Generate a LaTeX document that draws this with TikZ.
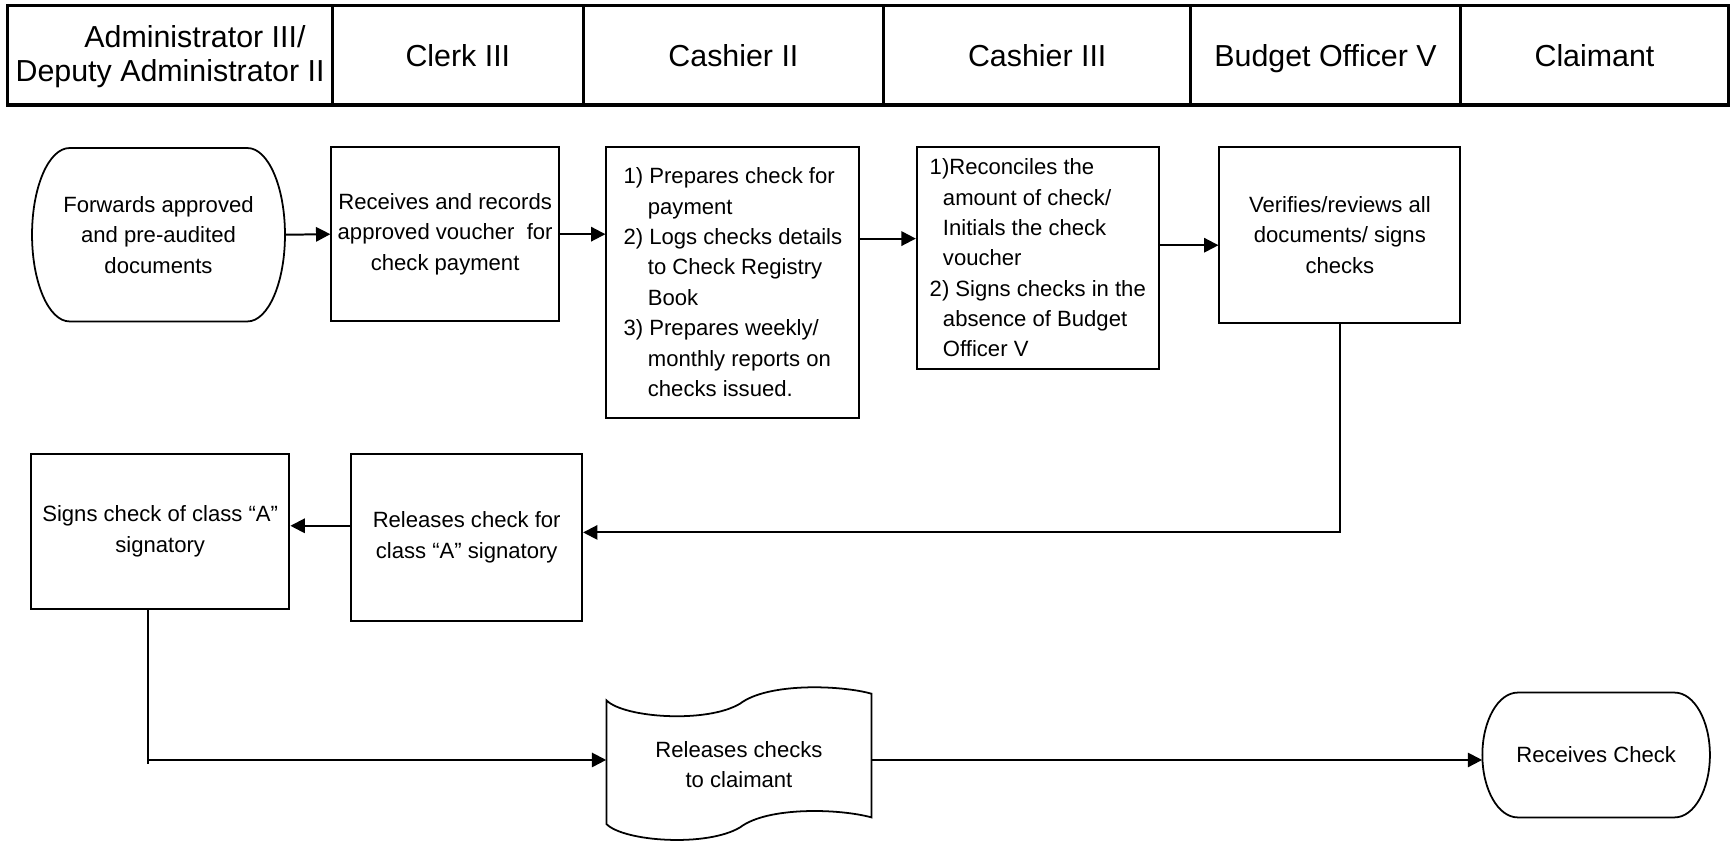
\documentclass[tikz,border=0pt]{standalone}
\usepackage{fontspec}
\setmainfont{Liberation Sans}
\usetikzlibrary{arrows.meta,calc}
\begin{document}
\begin{tikzpicture}[x=1pt,y=-1pt,
  txt/.style={inner sep=0pt, font=\fontsize{20}{27.5}\selectfont, align=center},
  box/.style={txt, draw, line width=1.8pt},
  hdr/.style={inner sep=0pt, font=\fontsize{27.5}{31}\selectfont, align=center},
  hdrone/.style={hdr, anchor=base},
  arr/.style={line width=1.8pt, -{Triangle[length=13pt,width=13pt]}},
  conn/.style={line width=1.8pt},
  outline/.style={line width=1.6pt},
  hline/.style={line width=3pt},
]
\useasboundingbox (0,0) rectangle (1568,761);

% header row
\draw[hline] (7,5) rectangle (1565,95);
\foreach \x in {301,528,800,1078,1322} \draw[hline] (\x,5) -- (\x,95);
\node[hdr] (h1) at (154,51) {\hspace*{45pt}Administrator III/\\Deputy Administrator II};
\node[hdrone] (h2) at (414.5,60) {Clerk III};
\node[hdrone] (h3) at (664,60) {Cashier II};
\node[hdrone] (h4) at (939,60) {Cashier III};
\node[hdrone] (h5) at (1200,60) {Budget Officer V};
\node[hdrone] (h6) at (1443.5,60) {Claimant};

% start terminal
\node[txt, minimum width=229pt, minimum height=158pt] (A) at (143.5,212.5)
  {Forwards approved\\and pre-audited\\documents};
\draw[outline] (224,134) .. controls (242.8,134) and (258,169.1) .. (258,212.5)
  .. controls (258,255.9) and (242.8,291) .. (224,291) -- (63,291)
  .. controls (44.2,291) and (29,255.9) .. (29,212.5)
  .. controls (29,169.1) and (44.2,134) .. (63,134) -- cycle;

\node[box, minimum width=206pt, minimum height=158pt] (B) at (403,212)
  {Receives and records\\approved voucher\ \ for\\check payment};

\node[box, minimum width=229pt, minimum height=245pt, align=left] (C) at (663.5,255.5)
  {1) Prepares check for\\\hspace*{22pt}payment\\2) Logs checks details\\\hspace*{22pt}to Check Registry\\\hspace*{22pt}Book\\3) Prepares weekly/\\\hspace*{22pt}monthly reports on\\\hspace*{22pt}checks issued.};

\node[box, minimum width=219pt, minimum height=201pt, align=left] (D) at (939.5,233.5)
  {1)Reconciles the\\\hspace*{12pt}amount of check/\\\hspace*{12pt}Initials the check\\\hspace*{12pt}voucher\\2) Signs checks in the\\\hspace*{12pt}absence of Budget\\\hspace*{12pt}Officer V};

\node[box, minimum width=218pt, minimum height=159pt] (E) at (1213,212.5)
  {Verifies/reviews all\\documents/ signs\\checks};

\node[box, minimum width=234pt, minimum height=140pt] (F) at (145,481)
  {Signs check of class “A”\\signatory};

\node[box, minimum width=209pt, minimum height=151pt] (G) at (422.5,486.5)
  {Releases check for\\class “A” signatory};

% punched-tape shape
\node[txt, minimum width=240pt, minimum height=130pt] (H) at (669,692)
  {Releases checks\\to claimant};
\draw[outline] (549,634) .. controls (565,650) and (640,655) .. (670,637)
  .. controls (695,618) and (760,620) .. (789,628) -- (789,740)
  .. controls (760,732) and (695,730) .. (670,749)
  .. controls (640,767) and (565,762) .. (549,746) -- cycle;

% end terminal
\node[txt, minimum width=206pt, minimum height=113pt] (I) at (1445,683.5) {Receives Check};
\draw[outline] (1516,627) .. controls (1533.7,627) and (1548,652.3) .. (1548,683.5)
  .. controls (1548,714.7) and (1533.7,740) .. (1516,740) -- (1374,740)
  .. controls (1356.3,740) and (1342,714.7) .. (1342,683.5)
  .. controls (1342,652.3) and (1356.3,627) .. (1374,627) -- cycle;

% connectors
\draw[arr] (A.east) -- (B.west);
\draw[arr] (B.east) -- (B.east -| C.west);
\coordinate (cd) at ([yshift=17.5pt]D.west);
\draw[arr] (C.east |- cd) -- (cd);
\coordinate (de) at ([yshift=-9.5pt]E.west);
\draw[arr] (D.east |- de) -- (de);
\coordinate (ge) at ([yshift=4.5pt]G.east);
\draw[arr] (E.south) |- (ge);
\coordinate (fg) at ([yshift=5pt]F.east);
\draw[arr] (G.west |- fg) -- (fg);
\coordinate (fs) at ([xshift=-11pt]F.south);
\coordinate (hc) at ([yshift=4pt]H.west);
\coordinate (fe) at ([yshift=-4pt]fs |- hc);
\draw[conn] (fs) -- (fe);
\draw[arr] (fs |- hc) -- (hc);
\draw[arr] (H.east |- hc) -- (hc -| I.west);
\end{tikzpicture}
\end{document}
